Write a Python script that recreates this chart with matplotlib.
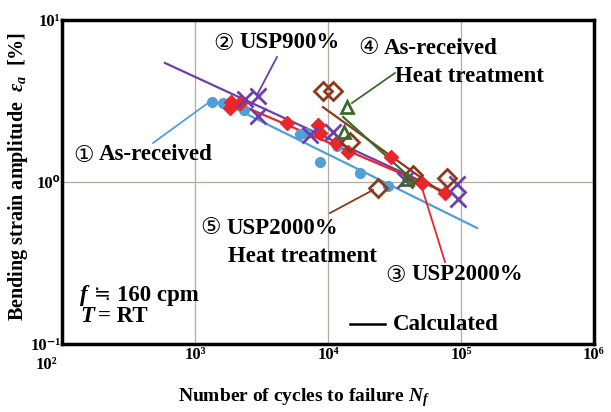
import numpy as np
import matplotlib
matplotlib.use('Agg')
import matplotlib.pyplot as plt

plt.rcParams['font.family'] = ['Liberation Serif', 'DejaVu Sans']
plt.rcParams['font.weight'] = 'bold'
plt.rcParams['mathtext.fontset'] = 'custom'
plt.rcParams['mathtext.rm'] = 'Liberation Serif:bold'
plt.rcParams['mathtext.it'] = 'Liberation Serif:italic:bold'
plt.rcParams['mathtext.bf'] = 'Liberation Serif:bold'

# measured points (N_f, strain amplitude %)
asrec_n = [1340, 1630, 2330, 6150, 6830, 8710, 11700, 17400, 28200]
asrec_e = [3.12, 3.08, 2.78, 1.98, 2.01, 1.33, 1.67, 1.14, 0.944]

usp900_n = [2380, 2980, 2980, 7330, 10900, 37900, 93300, 94900]
usp900_e = [3.25, 3.40, 2.55, 1.95, 2.04, 1.03, 0.973, 0.785]

usp2000_n = [1870, 1830, 2180, 4920, 8410, 8710, 11500, 14100, 29800, 50900, 75800]
usp2000_e = [3.12, 2.86, 3.08, 2.31, 2.25, 2.01, 1.74, 1.53, 1.43, 0.986, 0.855]

asrec_ht_n = [13900, 13200, 39300]
asrec_ht_e = [2.90, 2.04, 1.04]

usp2000_ht_n = [9160, 10900, 14600, 23800, 43500, 78500]
usp2000_ht_e = [3.65, 3.65, 1.77, 0.919, 1.10, 1.06]

# calculated lines (end points)
calc_asrec_n, calc_asrec_e = [1600, 132000], [3.12, 0.52]
calc_usp900_n, calc_usp900_e = [594, 78500], [5.43, 0.855]
calc_usp2000_n, calc_usp2000_e = [1870, 78500], [3.16, 0.855]
calc_asrec_ht_n, calc_asrec_ht_e = [13000, 45900], [2.52, 0.986]
calc_usp2000_ht_n, calc_usp2000_ht_e = [9160, 79800], [2.90, 0.807]

c_blue = '#4f9fd9'
c_red = '#e8262c'
c_purple = '#6e3fa8'
c_brown = '#8b3b1c'
c_green = '#3b6b2c'

W, H = 611, 412
fig = plt.figure(figsize=(W / 100, H / 100), dpi=100)
ax = fig.add_axes([62 / W, 1 - 344 / H, 532 / W, 324 / H])


def px(x, y):
    return (x / W, 1 - y / H)


ax.plot(calc_asrec_n, calc_asrec_e, color=c_blue, lw=1.6)
ax.plot(calc_usp900_n, calc_usp900_e, color=c_purple, lw=1.6)
ax.plot(calc_usp2000_n, calc_usp2000_e, color=c_red, lw=1.6)
ax.plot(calc_usp2000_ht_n, calc_usp2000_ht_e, color=c_brown, lw=1.6)
ax.plot(calc_asrec_ht_n, calc_asrec_ht_e, color=c_green, lw=1.6)

ax.plot(asrec_n, asrec_e, 'o', color=c_blue, ms=7, ls='none')
ax.plot(usp2000_n, usp2000_e, 'D', color=c_red, ms=7, ls='none')
ax.plot(usp900_n, usp900_e, 'x', color=c_purple, ms=11, mew=2, ls='none')
ax.plot(usp2000_ht_n, usp2000_ht_e, 'D', mfc='none', mec=c_brown, ms=9, mew=2, ls='none')
ax.plot(asrec_ht_n, asrec_ht_e, '^', mfc='none', mec=c_green, ms=9, mew=2, ls='none')

ax.set_xscale('log')
ax.set_yscale('log')
ax.set_xlim(1e2, 1e6)
ax.set_ylim(1e-1, 1e1)
ax.set_xticks([1e3, 1e4, 1e5, 1e6])
ax.set_xticklabels(['10³', '10⁴', '10⁵', '10⁶'])
ax.set_yticks([1e-1, 1e0, 1e1])
ax.set_yticklabels(['10⁻¹', '10⁰', '10¹'])
ax.xaxis.set_minor_locator(matplotlib.ticker.NullLocator())
ax.yaxis.set_minor_locator(matplotlib.ticker.NullLocator())
ax.tick_params(length=0, labelsize=12, pad=2)
ax.tick_params(axis='y', pad=1)
ax.grid(True, color='#b5aaa3', lw=0.9)
for s in ax.spines.values():
    s.set_linewidth(2.5)
fig.text(*px(46, 365), '10²', fontsize=12, ha='center', va='center')

fig.text(*px(304, 398), 'Number of cycles to failure $N_f$', fontsize=14,
         ha='center', va='center', fontweight='bold')
fig.text(*px(18, 176), 'Bending strain amplitude  $\\varepsilon_a$  [%]', fontsize=14.5,
         ha='center', va='center', rotation=90, fontweight='bold')

fs = 16.5
# (circled number, text, left x, centre y)
labels = [
    ('②', 'USP900%', 213, 43),
    ('④', 'As-received', 358, 48),
    ('', 'Heat treatment', 395, 77),
    ('①', 'As-received', 73, 155),
    ('⑤', 'USP2000%', 200, 228),
    ('', 'Heat treatment', 228, 256),
    ('③', 'USP2000%', 385, 275),
    ('', 'Calculated', 393, 324),
]
for num, t, x, y in labels:
    if num:
        fig.text(*px(x, y), num, fontsize=fs, ha='left', va='center',
                 fontweight='normal', family='DejaVu Sans')
        x += 26
    fig.text(*px(x, y), t, fontsize=fs, ha='left', va='center')

fig.text(*px(80, 295), 'f', fontsize=fs, ha='left', va='center', fontstyle='italic')
fig.text(*px(94, 295), '≒', fontsize=fs - 2, ha='left', va='center',
         fontweight='normal', family='DejaVu Sans')
fig.text(*px(117, 295), '160 cpm', fontsize=fs, ha='left', va='center')
fig.text(*px(80, 317), 'T', fontsize=fs, ha='left', va='center', fontstyle='italic')
fig.text(*px(98, 317), '= RT', fontsize=fs, ha='left', va='center')

leaders = [
    ((153, 143), (208, 103), c_blue),
    ((277, 57), (257, 95), c_purple),
    ((395, 73), (352, 103), c_green),
    ((330, 213), (373, 190), c_brown),
    ((445, 262), (422, 188), c_red),
    ((350, 324), (385, 324), 'black'),
]
for a, b, c in leaders:
    fig.add_artist(plt.Line2D([px(*a)[0], px(*b)[0]], [px(*a)[1], px(*b)[1]],
                              color=c, lw=1.3 if c != 'black' else 1.8))

fig.savefig('out.png', dpi=100)
